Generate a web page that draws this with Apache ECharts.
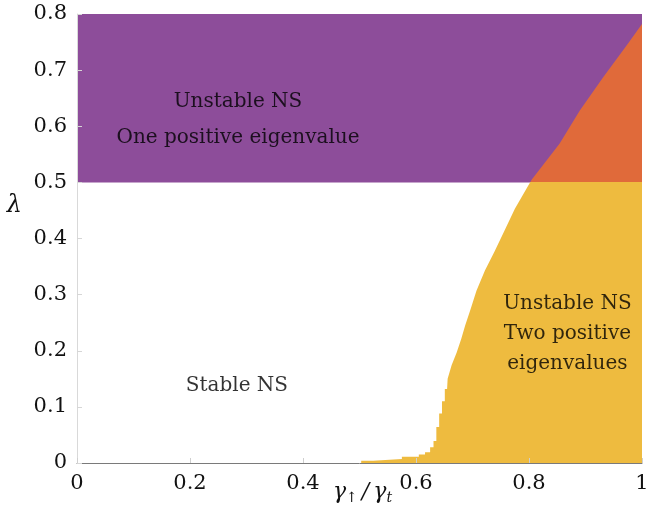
<!DOCTYPE html>
<html>
<head>
<meta charset="utf-8">
<script src="https://cdn.jsdelivr.net/npm/echarts@6/dist/echarts.min.js"></script>
<style>
  html, body { margin: 0; padding: 0; background: #fff; }
  #chart { width: 646px; height: 512px; }
</style>
</head>
<body>
<div id="chart"></div>
<script>
// Stability boundary of the NS state: lambda at which the second eigenvalue turns positive
const gammaRatio = [0.503, 0.503, 0.524, 0.524, 0.575, 0.575, 0.605, 0.605, 0.616, 0.616,
  0.625, 0.625, 0.631, 0.631, 0.636, 0.636, 0.641, 0.641, 0.646, 0.646,
  0.651, 0.651, 0.655, 0.656, 0.663, 0.672, 0.680, 0.687, 0.696, 0.707,
  0.722, 0.739, 0.758, 0.775, 0.798, 0.805, 0.854, 0.890, 0.931, 0.975, 1.0];
const lambdaEdge = [0, 0.004, 0.004, 0.007, 0.007, 0.011, 0.011, 0.015, 0.015, 0.019,
  0.019, 0.028, 0.028, 0.039, 0.039, 0.064, 0.064, 0.088, 0.088, 0.110,
  0.110, 0.132, 0.132, 0.150, 0.174, 0.197, 0.221, 0.245, 0.272, 0.307,
  0.343, 0.377, 0.417, 0.453, 0.493, 0.505, 0.569, 0.628, 0.687, 0.747, 0.782];

// Lambda above which one eigenvalue is always positive
const lambdaOne = 0.5;
const xRange = [0, 1];
const yRange = [0, 0.8];

// Region labels: [x, lambda, text, line height]
const regionLabels = [
  [0.285, 0.612, 'Unstable NS\nOne positive eigenvalue', 36],
  [0.868, 0.231, 'Unstable NS\nTwo positive\neigenvalues', 30],
  [0.283, 0.138, 'Stable NS', 30]
];

const purple = '#8D4D9A';
const orange = '#E06A3A';
const yellow = '#EEBB3F';
const serif = 'DejaVu Serif';
const ink = '#111';

const chart = echarts.init(document.getElementById('chart'), null, { renderer: 'canvas' });

chart.setOption({
  backgroundColor: '#ffffff',
  animation: false,
  grid: { left: 77, right: 4, top: 14, bottom: 49, containLabel: false, outerBoundsMode: 'none' },
  xAxis: {
    type: 'value', min: xRange[0], max: xRange[1], interval: 0.2, z: 5,
    axisLine: { show: true, onZero: false, lineStyle: { color: '#7a7a7a', width: 1 } },
    axisTick: { show: true, inside: true, length: 5, lineStyle: { color: '#cfcfcf' } },
    splitLine: { show: false },
    axisLabel: { color: ink, fontFamily: serif, fontSize: 21, margin: 10 },
    name: '{g|γ}{s|↑}{d|/}{g|γ}{s|t}',
    nameLocation: 'middle',
    nameGap: 16,
    nameMoveOverlap: false,
    nameTextStyle: {
      padding: [0, 0, 0, 6],
      rich: {
        g: { fontFamily: serif, fontStyle: 'italic', fontSize: 22, color: ink },
        d: { fontFamily: serif, fontStyle: 'italic', fontSize: 22, color: ink, padding: [0, 4, 0, 4] },
        s: { fontFamily: serif, fontStyle: 'italic', fontSize: 14, color: ink, verticalAlign: 'bottom', padding: [12, 0, 0, 0] }
      }
    }
  },
  yAxis: {
    type: 'value', min: yRange[0], max: yRange[1], interval: 0.1, z: 5,
    axisLine: { show: true, onZero: false, lineStyle: { color: '#d9d9d9', width: 1 } },
    axisTick: { show: true, inside: true, length: 5, lineStyle: { color: '#d6d6d6' } },
    splitLine: { show: false },
    axisLabel: { color: ink, fontFamily: serif, fontSize: 21, margin: 10 },
    name: 'λ\n \n ',
    nameLocation: 'middle',
    nameRotate: 0,
    nameGap: 55,
    nameTextStyle: { fontFamily: serif, fontStyle: 'italic', fontSize: 24, color: ink, lineHeight: 33 }
  },
  visualMap: {
    type: 'piecewise', show: false, dimension: 1, seriesIndex: 1,
    pieces: [
      { gte: yRange[0], lt: lambdaOne, color: yellow },
      { gte: lambdaOne, lte: yRange[1], color: orange }
    ]
  },
  series: [
    {
      name: 'one positive eigenvalue',
      type: 'line',
      data: [],
      silent: true,
      z: 1,
      markArea: {
        silent: true,
        itemStyle: { color: purple, opacity: 1 },
        data: [[{ xAxis: xRange[0], yAxis: lambdaOne }, { xAxis: xRange[1], yAxis: yRange[1] }]]
      }
    },
    {
      name: 'two positive eigenvalues',
      type: 'line',
      data: gammaRatio.map((g, i) => [g, lambdaEdge[i]]),
      showSymbol: false,
      silent: true,
      z: 2,
      lineStyle: { width: 0 },
      areaStyle: { opacity: 1 }
    },
    {
      name: 'labels',
      type: 'scatter',
      silent: true,
      z: 4,
      symbolSize: 1,
      itemStyle: { color: 'rgba(0,0,0,0)' },
      data: regionLabels.map(r => ({
        value: [r[0], r[1]],
        name: r[2],
        label: { lineHeight: r[3] }
      })),
      label: {
        show: true,
        position: 'inside',
        formatter: p => p.name,
        fontFamily: serif,
        fontSize: 20,
        color: '#000',
        textBorderWidth: 0,
        align: 'center'
      }
    }
  ]
});
</script>
</body>
</html>
